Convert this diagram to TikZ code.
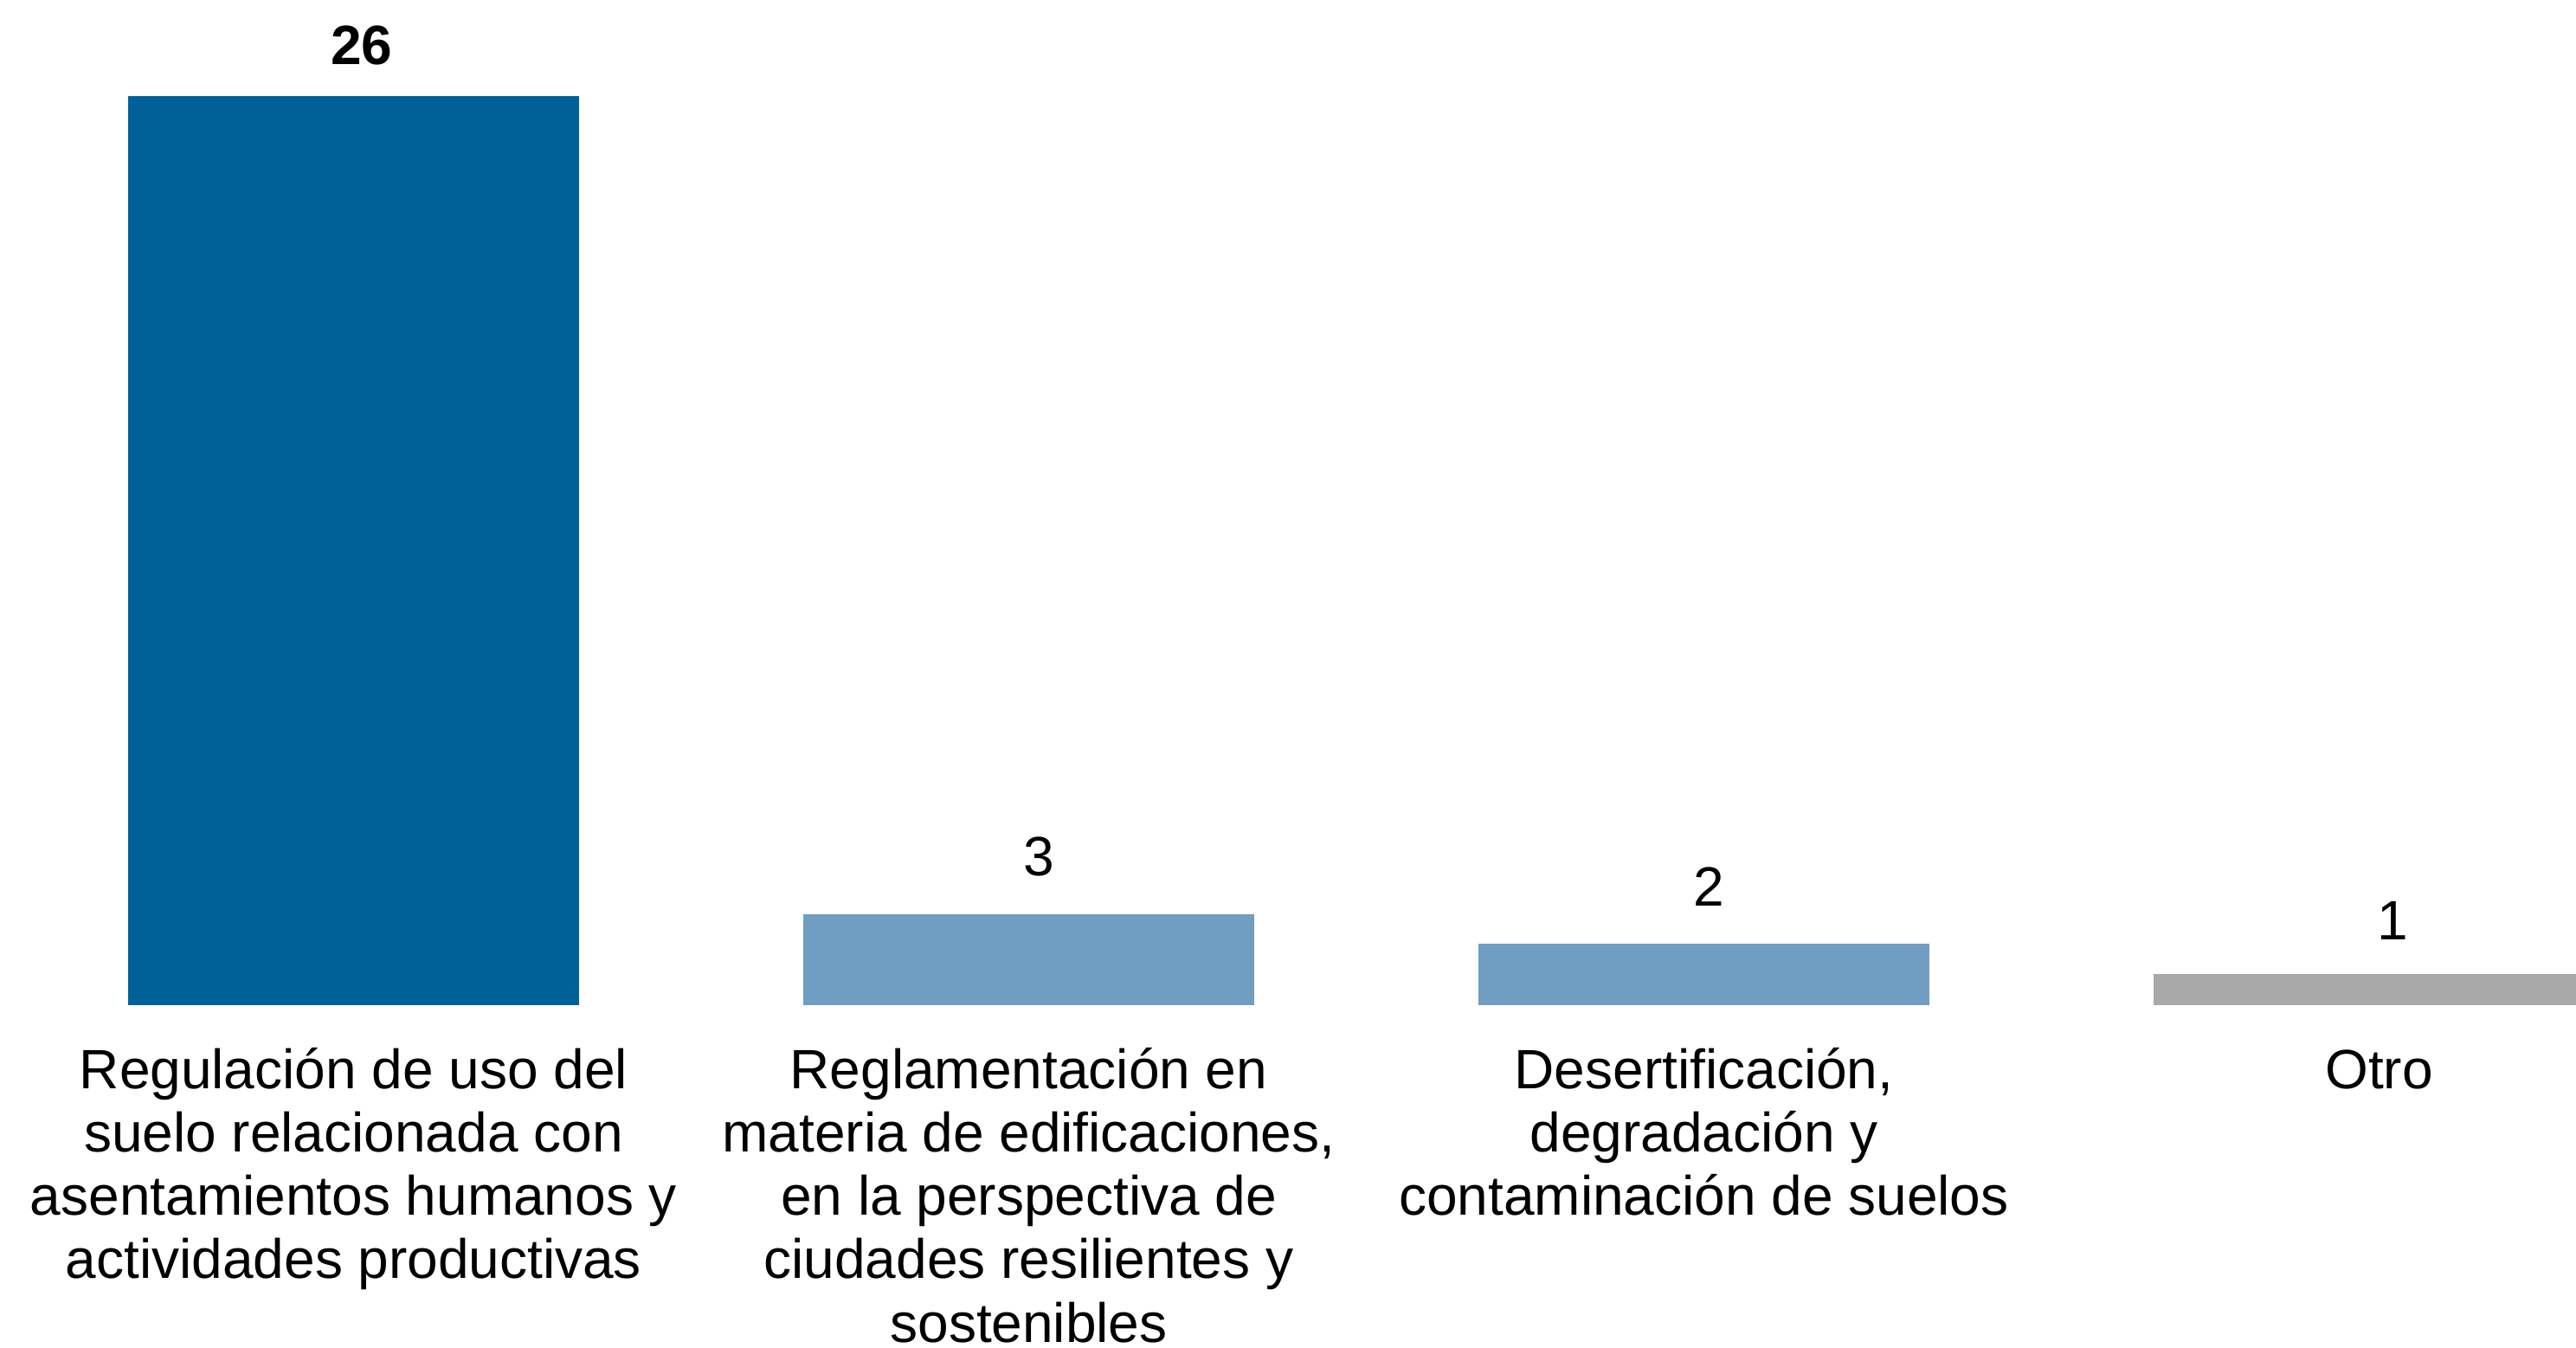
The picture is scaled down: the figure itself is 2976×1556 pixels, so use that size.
\documentclass[tikz,border=0pt]{standalone}
\usepackage{fontspec}
\setmainfont{Liberation Sans}
\definecolor{darkbar}{RGB}{0,97,153}
\definecolor{lightbar}{RGB}{112,157,194}
\definecolor{greybar}{RGB}{168,168,168}
\tikzset{
  valuelabel/.style={anchor=base, inner sep=0pt, font=\fontsize{16}{18.33}\selectfont},
  catlabel/.style={anchor=base, inner sep=0pt, font=\fontsize{16}{18.33}\selectfont},
}
\newcommand{\catlines}[1]{\renewcommand{\arraystretch}{1}\setlength{\tabcolsep}{0pt}\begin{tabular}[t]{c}#1\end{tabular}}
\begin{document}
\begin{tikzpicture}[x=0.25pt,y=-0.25pt]
\useasboundingbox (0,0) rectangle (2976,1556);
\clip (0,0) rectangle (2976,1556);
% bars
\fill[darkbar]  (148,111)  rectangle (669,1161);
\fill[lightbar] (928,1056) rectangle (1449,1161);
\fill[lightbar] (1708,1090) rectangle (2229,1161);
\fill[greybar]  (2488,1125) rectangle (3009,1161);
% values
\node[valuelabel] (v1) at (418,74)   {\textbf{26}};
\node[valuelabel] (v2) at (1200,1011) {3};
\node[valuelabel] (v3) at (1974,1046) {2};
\node[valuelabel] (v4) at (2764,1085) {1};
% categories
\node[catlabel] (c1) at (408.5,1257) {\catlines{Regulación de uso del\\suelo relacionada con\\asentamientos humanos y\\actividades productivas}};
\node[catlabel] (c2) at (1188.5,1257) {\catlines{Reglamentación en\\materia de edificaciones,\\en la perspectiva de\\ciudades resilientes y\\sostenibles}};
\node[catlabel] (c3) at (1968.5,1257) {\catlines{Desertificación,\\degradación y\\contaminación de suelos}};
\node[catlabel] (c4) at (2748.5,1257) {Otro};
\end{tikzpicture}
\end{document}
